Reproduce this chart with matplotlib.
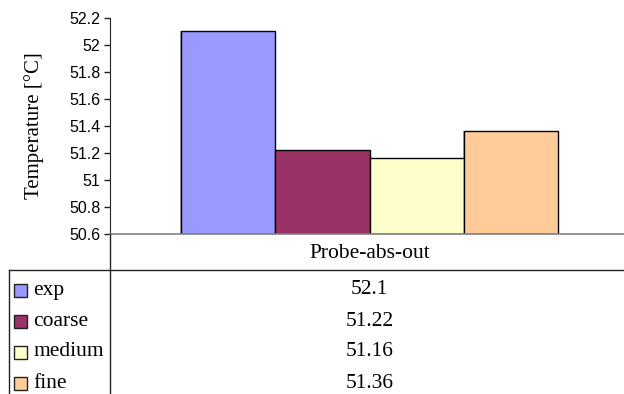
import matplotlib.pyplot as plt
from matplotlib.lines import Line2D
from matplotlib.patches import Rectangle

category = "Probe-abs-out"
series = ["exp", "coarse", "medium", "fine"]
values = [52.1, 51.22, 51.16, 51.36]
value_labels = ["52.1", "51.22", "51.16", "51.36"]
colors = ["#9999FF", "#993366", "#FFFFCC", "#FFCC99"]
yticks = [50.6, 50.8, 51.0, 51.2, 51.4, 51.6, 51.8, 52.0, 52.2]
ytick_labels = ["50.6", "50.8", "51", "51.2", "51.4", "51.6", "51.8", "52", "52.2"]

W, H = 624, 394
fig = plt.figure(figsize=(W / 100, H / 100), dpi=100)


def fx(px):
    return px / W


def fy(py):
    return 1 - py / H


# plot area in pixels: left 110, top 18, right 629, bottom 234
ax = fig.add_axes([fx(110), fy(234), fx(629 - 110), (234 - 18) / H])
bar_w = 0.182
for i, (v, c) in enumerate(zip(values, colors)):
    x = (i - 1.5) * bar_w
    # soft shadow behind each bar
    ax.bar(x - 0.002, v - 50.6, width=bar_w, bottom=50.6, color="#b0b0b0",
           edgecolor="none", zorder=1)
    ax.bar(x, v - 50.6, width=bar_w, bottom=50.6, color=c,
           edgecolor="black", linewidth=1.0, zorder=2)

ax.set_xlim(-0.5, 0.5)
ax.set_ylim(50.6, 52.2)
ax.set_yticks(yticks)
ax.set_yticklabels(ytick_labels, fontfamily="Liberation Sans", fontsize=11.5)
ax.set_xticks([])
ax.tick_params(axis="y", direction="out", length=4, width=1, color="#222222", pad=3)
for s in ["top", "right"]:
    ax.spines[s].set_visible(False)
ax.spines["left"].set_color("#222222")
ax.spines["bottom"].set_color("#808080")
ax.spines["bottom"].set_linewidth(1.2)
ax.set_ylabel("Temperature [°C]", fontfamily="Liberation Serif", fontsize=15)
ax.yaxis.set_label_coords(-(110 - 44) / (629 - 110), 0.5)

serif = dict(fontfamily="Liberation Serif", fontsize=15.5, color="black")
line_kw = dict(color="#222222", linewidth=1.0, transform=fig.transFigure)

# data table below the plot
fig.add_artist(Line2D([fx(110), fx(110)], [fy(234), fy(H)], **line_kw))
fig.add_artist(Line2D([fx(9), fx(W)], [fy(270), fy(270)], **line_kw))
fig.add_artist(Line2D([fx(9), fx(9)], [fy(270), fy(H)], **line_kw))
fig.text(fx(369.5), fy(253), category, ha="center", va="center", **serif)

row_y = [290, 321, 352, 383]
for name, c, lbl, py in zip(series, colors, value_labels, row_y):
    fig.add_artist(Rectangle((fx(14), fy(py + 6.5)), fx(13), 13 / H, facecolor=c,
                             edgecolor="#222222", linewidth=1.0,
                             transform=fig.transFigure))
    fig.text(fx(33), fy(py), name, ha="left", va="center", **serif)
    fig.text(fx(369.5), fy(py), lbl, ha="center", va="center", **serif)

fig.savefig("out.png", dpi=100)
